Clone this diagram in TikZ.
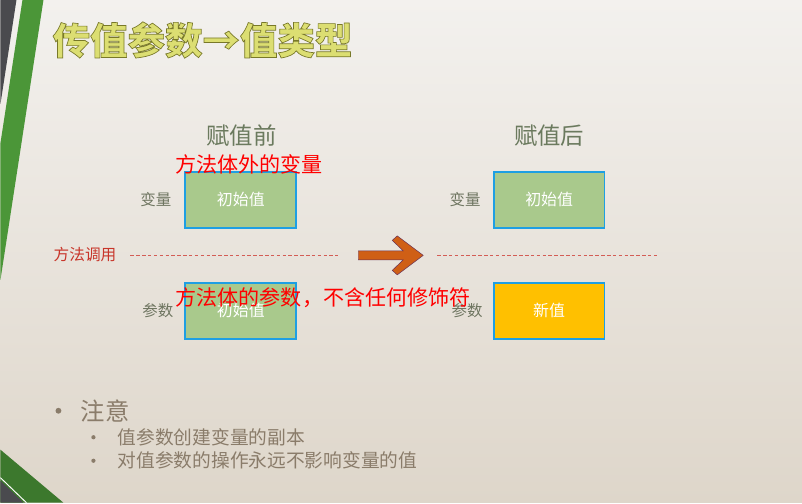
\documentclass[tikz,border=0pt]{standalone}
\usepackage{fontspec}
\setmainfont{Noto Sans CJK SC}
\newfontfamily\titlefont[FakeBold=1.8]{Noto Sans CJK SC}
\usetikzlibrary{positioning}

\definecolor{bgtop}{HTML}{F3F1EE}
\definecolor{bgbottom}{HTML}{DED6CA}
\definecolor{stripegreen}{HTML}{4B9638}
\definecolor{stripegray}{HTML}{4A4A4E}
\definecolor{titlefill}{HTML}{DCDE72}
\definecolor{headgreen}{HTML}{6B7A5E}
\definecolor{labelgray}{HTML}{6E7560}
\definecolor{boxgreen}{HTML}{A9C98C}
\definecolor{boxorange}{HTML}{FFC000}
\definecolor{boxedge}{HTML}{1E9FE3}
\definecolor{callred}{HTML}{C8352A}
\definecolor{arroworange}{HTML}{CF5F16}
\definecolor{notebrown}{HTML}{8A7C6A}

\begin{document}
\begin{tikzpicture}[x=0.03cm, y=-0.03cm,
  titletext/.style={font=\titlefont\bfseries\fontsize{32}{36}\selectfont, text=titlefill, inner sep=0pt},
  head/.style={font=\fontsize{20}{24}\selectfont, text=headgreen, inner sep=0pt},
  valbox/.style={rectangle, draw=boxedge, line width=1.5pt, fill=boxgreen,
                 minimum width=3.33cm, minimum height=1.68cm,
                 text=white, font=\fontsize{13.6}{16}\selectfont},
  newbox/.style={valbox, fill=boxorange},
  varlabel/.style={font=\fontsize{13.2}{16}\selectfont, text=labelgray, inner sep=0pt},
  calllabel/.style={font=\fontsize{13.4}{16}\selectfont, text=callred, inner sep=0pt},
  callline/.style={draw=callred!80, line width=0.6pt, dash pattern=on 3pt off 2pt},
  remark/.style={font=\fontsize{18}{22}\selectfont, text=red, inner sep=0pt},
  bigarrow/.style={fill=arroworange, draw=arroworange!70!black!70!blue, line width=0.4pt},
  dot/.style={circle, fill=notebrown, inner sep=0pt},
  notehead/.style={font=\fontsize{20.8}{24}\selectfont, text=notebrown, inner sep=0pt},
  notesub/.style={font=\fontsize{16}{20}\selectfont, text=notebrown, inner sep=0pt}]

  % background and side stripes
  \shade[top color=bgtop, bottom color=bgbottom] (0,0) rectangle (802,503);
  \fill[stripegray] (0,0) -- (16,0) -- (0,104) -- cycle;
  \fill[stripegreen] (22,0) -- (43,0) -- (0,280) -- (0,143) -- cycle;
  \fill[stripegreen!80!black] (0,450) -- (63,503) -- (0,503) -- cycle;
  \draw[white, line width=0.8pt] (0,478) -- (26,503);
  \fill[stripegray] (0,481) -- (23,503) -- (0,503) -- cycle;

  % title
  \node[titletext, anchor=west] (title) at (52,40)
    {\special{pdf:code 0.47 0.47 0.16 RG}传值参数→值类型};

  % before / after
  \node[head] (before) at (241,136) {赋值前};
  \node[head] (after) at (549,136) {赋值后};

  \node[valbox] (varA) at (240.5,200) {初始值};
  \node[valbox] (parA) at (240.5,311) {初始值};
  \node[valbox] (varB) at (549,200) {初始值};
  \node[newbox] (parB) at (549,311) {新值};

  \node[varlabel, left=0.39cm of varA] (varAlbl) {变量};
  \node[varlabel, left=0.33cm of parA] (parAlbl) {参数};
  \node[varlabel, left=0.36cm of varB] (varBlbl) {变量};
  \node[varlabel, left=0.30cm of parB] (parBlbl) {参数};

  % method call line
  \node[calllabel, anchor=west] (call) at (53,255) {方法调用};
  \coordinate (dashA1) at (130,255);
  \coordinate (dashA2) at (338,255);
  \coordinate (dashB1) at (437,255);
  \coordinate (dashB2) at (659,255);
  \draw[callline] (dashA1) -- (dashA2);
  \draw[callline] (dashB1) -- (dashB2);

  \draw[bigarrow] (358,251) -- (403,251) -- (392,240.5) -- (397,236) -- (423,255.5)
    -- (397,275) -- (392,270.5) -- (403,260) -- (358,260) -- cycle;

  % red remarks
  \node[remark] (outerNote) at (248.5,165) {方法体外的变量};
  \node[remark, anchor=west] (paramNote) at (175,298) {方法体的参数，不含任何修饰符};

  % notes
  \node[dot, minimum size=5pt] (dot1) at (58,411) {};
  \node[notehead, anchor=west] (attn) at (80,411) {注意};
  \node[dot, minimum size=3.6pt] (dot2) at (93,437.5) {};
  \node[notesub, anchor=west] (sub1) at (117,437.5) {值参数创建变量的副本};
  \node[dot, minimum size=3.6pt] (dot3) at (93,461) {};
  \node[notesub, anchor=west] (sub2) at (117,461) {对值参数的操作永远不影响变量的值};
\end{tikzpicture}
\end{document}
